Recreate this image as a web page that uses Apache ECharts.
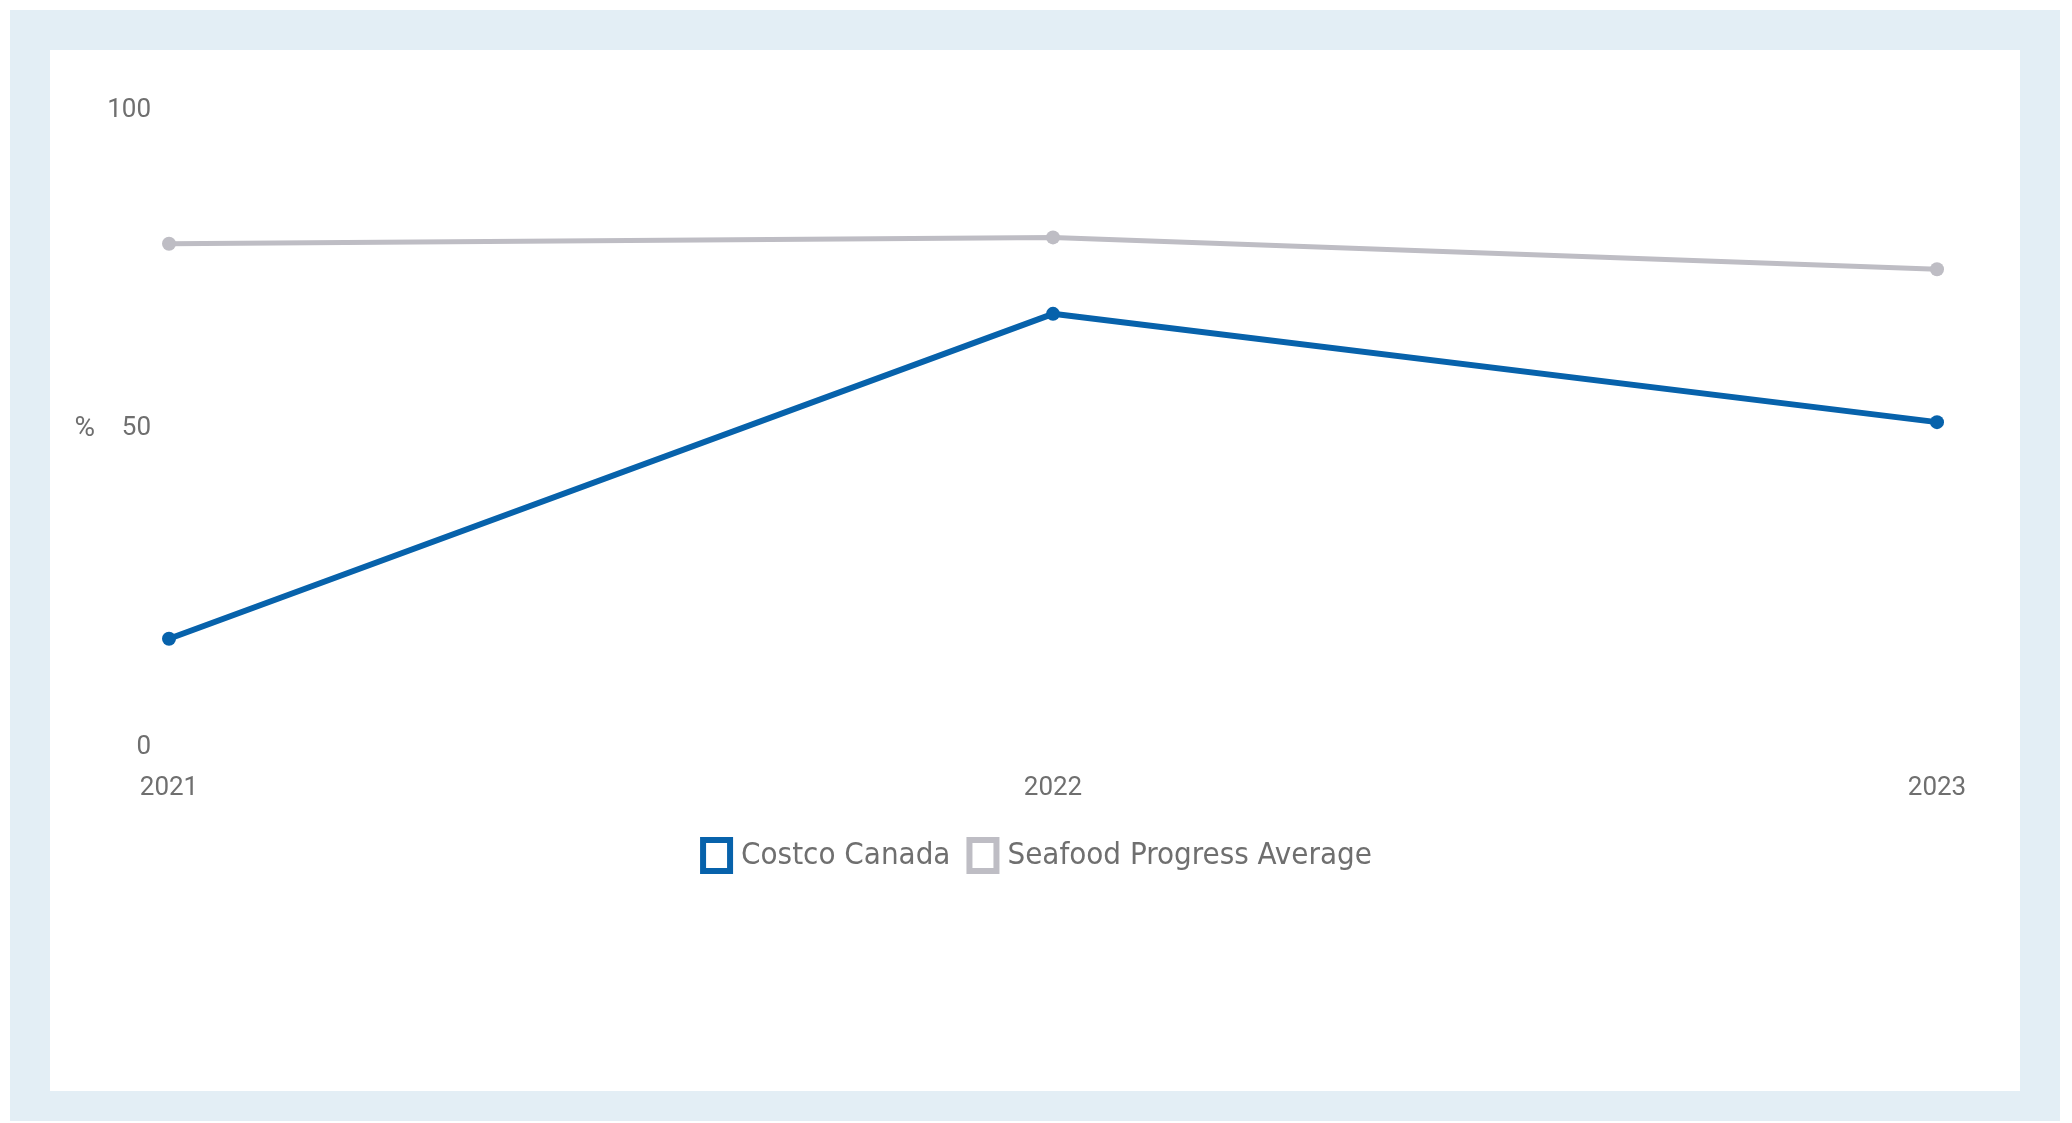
<!DOCTYPE html>
<html>
<head>
<meta charset="utf-8">
<script src="https://cdn.jsdelivr.net/npm/echarts@6/dist/echarts.min.js"></script>
<style>
  html, body { margin: 0; padding: 0; background: #ffffff; }
  #chart { width: 2072px; height: 1123px; }
</style>
</head>
<body>
<div id="chart"></div>
<script>
// Years on the x axis
const years = ['2021', '2022', '2023'];
// Share (%) per year
const costcoCanada = [17, 68, 51];
const seafoodProgressAverage = [79, 80, 75];
// Series names shown in the legend
const seriesNames = ['Costco Canada', 'Seafood Progress Average'];

const BLUE = '#0762ab';
const GREY = '#bebdc4';
const TEXT = '#6f6f6f';

const chart = echarts.init(document.getElementById('chart'), null, { renderer: 'canvas' });

chart.setOption({
  animation: false,
  backgroundColor: '#ffffff',
  graphic: [
    { type: 'rect', z: -10, shape: { x: 10, y: 10, width: 2050, height: 1111 }, style: { fill: '#e3eef5' }, silent: true },
    { type: 'rect', z: -9, shape: { x: 50, y: 50, width: 1970, height: 1041 }, style: { fill: '#ffffff' }, silent: true }
  ],
  grid: { left: 169, right: 135, top: 110, bottom: 376, containLabel: false },
  xAxis: {
    type: 'category',
    data: years,
    boundaryGap: false,
    axisLine: { show: false },
    axisTick: { show: false },
    splitLine: { show: false },
    axisLabel: { color: TEXT, fontFamily: 'Roboto', fontSize: 26, margin: 28 }
  },
  yAxis: {
    type: 'value',
    min: 0,
    max: 100,
    interval: 50,
    name: '%',
    nameLocation: 'middle',
    nameRotate: 0,
    nameGap: 74,
    nameTextStyle: { color: TEXT, fontFamily: 'Roboto', fontSize: 28 },
    axisLine: { show: false },
    axisTick: { show: false },
    splitLine: { show: false },
    axisLabel: { color: TEXT, fontFamily: 'Roboto', fontSize: 26, margin: 18 }
  },
  legend: {
    left: 'center',
    top: 832,
    itemWidth: 27,
    itemHeight: 31,
    itemGap: 16,
    icon: 'rect',
    textStyle: { color: TEXT, fontFamily: "'DejaVu Sans Condensed', Roboto, sans-serif", fontSize: 31, padding: [0, 0, 0, 6] },
    data: [
      { name: seriesNames[0], itemStyle: { color: '#ffffff', borderColor: BLUE, borderWidth: 6 } },
      { name: seriesNames[1], itemStyle: { color: '#ffffff', borderColor: GREY, borderWidth: 6 } }
    ]
  },
  series: [
    {
      name: seriesNames[1],
      type: 'line',
      data: seafoodProgressAverage,
      symbol: 'circle',
      symbolSize: 14,
      lineStyle: { color: GREY, width: 5 },
      itemStyle: { color: GREY }
    },
    {
      name: seriesNames[0],
      type: 'line',
      data: costcoCanada,
      symbol: 'circle',
      symbolSize: 14,
      lineStyle: { color: BLUE, width: 6 },
      itemStyle: { color: BLUE }
    }
  ]
});
</script>
</body>
</html>
